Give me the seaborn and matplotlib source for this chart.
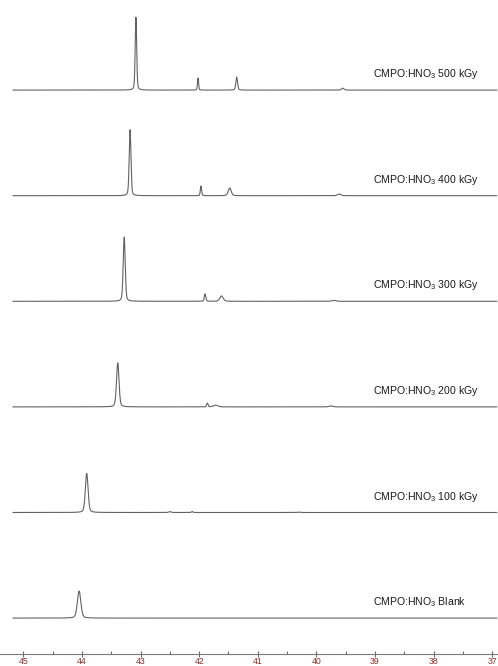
import numpy as np
import pandas as pd
import matplotlib
matplotlib.use("Agg")
import matplotlib.pyplot as plt
import seaborn as sns
from matplotlib.ticker import MultipleLocator

# Sample labels, bottom to top
samples = ["Blank", "100 kGy", "200 kGy", "300 kGy", "400 kGy", "500 kGy"]

# Peak lists per sample: chemical shift (ppm), height (a.u.), FWHM (ppm)
blank_shift = [44.05]
blank_height = [25.6]
blank_width = [0.07]

d100_shift = [43.92, 42.50, 42.12, 40.30]
d100_height = [37.0, 0.8, 0.9, 0.4]
d100_width = [0.055, 0.05, 0.03, 0.05]

d200_shift = [43.39, 41.86, 41.72, 39.75]
d200_height = [41.7, 3.6, 1.6, 0.9]
d200_width = [0.05, 0.03, 0.09, 0.08]

d300_shift = [43.28, 41.90, 41.62, 39.70]
d300_height = [60.6, 7.0, 5.0, 0.9]
d300_width = [0.04, 0.03, 0.07, 0.08]

d400_shift = [43.18, 41.97, 41.48, 39.61]
d400_height = [62.5, 9.2, 7.3, 1.6]
d400_width = [0.035, 0.025, 0.06, 0.07]

d500_shift = [43.08, 42.02, 41.36, 39.55]
d500_height = [69.0, 11.4, 12.3, 1.8]
d500_width = [0.03, 0.022, 0.035, 0.05]

peaks = [
    (blank_shift, blank_height, blank_width),
    (d100_shift, d100_height, d100_width),
    (d200_shift, d200_height, d200_width),
    (d300_shift, d300_height, d300_width),
    (d400_shift, d400_height, d400_width),
    (d500_shift, d500_height, d500_width),
]

tick_values = [45, 44, 43, 42, 41, 40, 39, 38, 37]

# Stacking offsets
offset_step = 100.0
base_offset = 34.0

ppm = np.linspace(45.18, 36.92, 6000)


def peak_sum(x, shifts, heights, widths):
    """Pseudo-Voigt line shapes (mostly Gaussian, some Lorentzian tail)."""
    y = np.zeros_like(x)
    for c, h, w in zip(shifts, heights, widths):
        g = w / 2.0
        lor = g**2 / ((x - c) ** 2 + g**2)
        gau = np.exp(-np.log(2) * ((x - c) / g) ** 2)
        y += h * (0.7 * gau + 0.3 * lor)
    return y


frames = []
for i, (name, (s, h, w)) in enumerate(zip(samples, peaks)):
    frames.append(pd.DataFrame({
        "ppm": ppm,
        "intensity": peak_sum(ppm, s, h, w) + base_offset + i * offset_step,
        "sample": name,
    }))
spectra = pd.concat(frames, ignore_index=True)

sns.set_theme(style="white")
plt.rcParams["font.family"] = ["Liberation Sans", "DejaVu Sans"]
plt.rcParams["mathtext.fontset"] = "custom"
plt.rcParams["mathtext.rm"] = "Liberation Sans"

fig = plt.figure(figsize=(4.98, 6.66), dpi=100)
ax = fig.add_axes([0.0, 12 / 666, 1.0, 1 - 12 / 666])

sns.lineplot(data=spectra, x="ppm", y="intensity", hue="sample",
             palette=["#626262"] * len(samples), linewidth=0.8,
             legend=False, ax=ax, estimator=None, sort=False)

for i, name in enumerate(samples):
    ax.text(39.04, base_offset + i * offset_step + 15,
            "CMPO:HNO$_{\\mathregular{3}}$ " + name,
            fontsize=7.6, color="#1a1a1a", ha="left", va="center")

ax.set_xlim(45.40, 36.90)
ax.set_ylim(0, 654 / 1.056)
ax.set_xlabel("")
ax.set_ylabel("")
ax.set_yticks([])
ax.set_xticks(tick_values)
ax.set_xticklabels([str(t) for t in tick_values])
ax.xaxis.set_minor_locator(MultipleLocator(0.5))

for side in ["top", "left", "right"]:
    ax.spines[side].set_visible(False)
ax.spines["bottom"].set_color("#7a7a7a")
ax.spines["bottom"].set_linewidth(0.8)
ax.tick_params(axis="x", which="major", direction="inout", length=4,
               width=0.8, color="#6a6a6a", labelsize=6.3,
               labelcolor="#8b2f2f", pad=0.5, bottom=True)
ax.tick_params(axis="x", which="minor", direction="in", length=2,
               width=0.8, color="#6a6a6a", bottom=True)
ax.set_facecolor("white")
fig.patch.set_facecolor("white")

fig.savefig("out.png", dpi=100, facecolor="white")
